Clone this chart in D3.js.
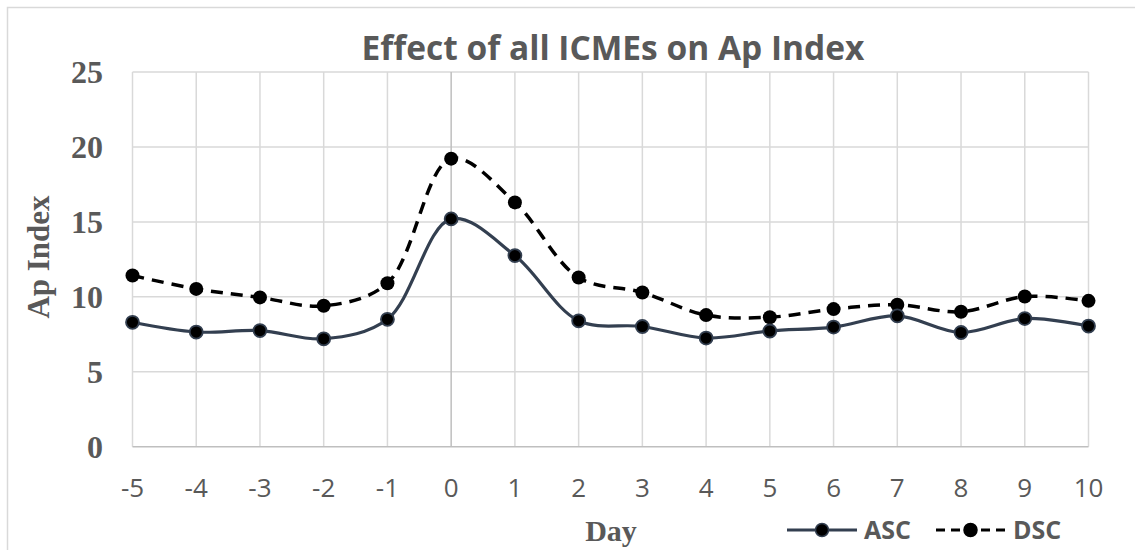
<!DOCTYPE html>
<html>
<head>
<meta charset="utf-8">
<script src="https://cdn.jsdelivr.net/npm/d3@7"></script>
<style>
  html, body { margin: 0; padding: 0; background: #ffffff; }
  svg { display: block; }
</style>
</head>
<body>
<svg id="chart" width="1135" height="550"></svg>
<script>
// Days relative to ICME arrival
const days = [-5, -4, -3, -2, -1, 0, 1, 2, 3, 4, 5, 6, 7, 8, 9, 10];
// Mean Ap index, ascending phase
const ascValues = [8.3, 7.65, 7.75, 7.2, 8.5, 15.2, 12.75, 8.4, 8.02, 7.25, 7.72, 7.98, 8.73, 7.62, 8.55, 8.05];
// Mean Ap index, descending phase
const dscValues = [11.42, 10.53, 9.96, 9.4, 10.91, 19.22, 16.3, 11.29, 10.29, 8.78, 8.64, 9.18, 9.47, 9.0, 10.02, 9.73];
const yTicks = [0, 5, 10, 15, 20, 25];
const seriesNames = ["ASC", "DSC"];

const svg = d3.select("#chart");
const textGrey = "#595959";
const gridGrey = "#d9d9d9";
const ascColor = "#333f50";

// outer chart frame
svg.append("rect")
  .attr("x", 7.5).attr("y", 7.5)
  .attr("width", 1140).attr("height", 560)
  .attr("fill", "none").attr("stroke", gridGrey).attr("stroke-width", 1.5);

const x = d3.scaleLinear().domain([-5, 10]).range([132.5, 1088.5]);
const y = d3.scaleLinear().domain([0, 25]).range([446.7, 72]);

// horizontal gridlines
svg.append("g")
  .selectAll("line").data(yTicks.filter(d => d > 0)).join("line")
  .attr("x1", x(-5)).attr("x2", x(10))
  .attr("y1", d => y(d)).attr("y2", d => y(d))
  .attr("stroke", gridGrey).attr("stroke-width", 1.5);

// vertical gridlines
svg.append("g")
  .selectAll("line").data(days.filter(d => d !== 0)).join("line")
  .attr("x1", d => x(d)).attr("x2", d => x(d))
  .attr("y1", y(25)).attr("y2", y(0))
  .attr("stroke", gridGrey).attr("stroke-width", 1.5);

// value axis crossing at day 0 and the category axis
svg.append("line")
  .attr("x1", x(0)).attr("x2", x(0))
  .attr("y1", y(25)).attr("y2", y(0))
  .attr("stroke", "#bfbfbf").attr("stroke-width", 1.5);
svg.append("line")
  .attr("x1", x(-5)).attr("x2", x(10))
  .attr("y1", y(0)).attr("y2", y(0))
  .attr("stroke", "#bfbfbf").attr("stroke-width", 1.5);

// y tick labels
svg.append("g")
  .selectAll("text").data(yTicks).join("text")
  .attr("x", 103).attr("y", d => y(d))
  .attr("dy", "0.35em")
  .attr("text-anchor", "end")
  .attr("font-family", "'Liberation Serif', 'Times New Roman', serif")
  .attr("font-weight", "bold").attr("font-size", 32)
  .attr("fill", textGrey)
  .text(d => d);

// x tick labels
svg.append("g")
  .selectAll("text").data(days).join("text")
  .attr("x", d => x(d)).attr("y", 497)
  .attr("text-anchor", "middle")
  .attr("font-family", "'Open Sans', sans-serif")
  .attr("font-size", 26)
  .attr("fill", textGrey)
  .text(d => d);

// axis titles
svg.append("text")
  .attr("transform", "translate(49,257) rotate(-90)")
  .attr("text-anchor", "middle")
  .attr("font-family", "'Liberation Serif', 'Times New Roman', serif")
  .attr("font-weight", "bold").attr("font-size", 31)
  .attr("fill", textGrey)
  .text("Ap Index");

svg.append("text")
  .attr("x", 611).attr("y", 541)
  .attr("text-anchor", "middle")
  .attr("font-family", "'Liberation Serif', 'Times New Roman', serif")
  .attr("font-weight", "bold").attr("font-size", 30)
  .attr("fill", textGrey)
  .text("Day");

// chart title
svg.append("text")
  .attr("x", 613).attr("y", 60)
  .attr("text-anchor", "middle")
  .attr("font-family", "'Open Sans', sans-serif")
  .attr("font-weight", "bold").attr("font-size", 33.5)
  .attr("fill", textGrey)
  .text("Effect of all ICMEs on Ap Index");

// series
const line = d3.line()
  .x((d, i) => x(days[i]))
  .y(d => y(d))
  .curve(d3.curveCatmullRom.alpha(0.5));

svg.append("path")
  .datum(dscValues)
  .attr("d", line)
  .attr("fill", "none").attr("stroke", "#000000")
  .attr("stroke-width", 3.5).attr("stroke-dasharray", "12,8");

svg.append("path")
  .datum(ascValues)
  .attr("d", line)
  .attr("fill", "none").attr("stroke", ascColor)
  .attr("stroke-width", 3.2);

svg.append("g")
  .selectAll("circle").data(dscValues).join("circle")
  .attr("cx", (d, i) => x(days[i])).attr("cy", d => y(d))
  .attr("r", 7).attr("fill", "#000000");

svg.append("g")
  .selectAll("circle").data(ascValues).join("circle")
  .attr("cx", (d, i) => x(days[i])).attr("cy", d => y(d))
  .attr("r", 6.5).attr("fill", "#000000")
  .attr("stroke", ascColor).attr("stroke-width", 1.8);

// legend
const legend = svg.append("g");
const legendItems = [
  { name: seriesNames[0], x0: 787, x1: 857, color: ascColor, dash: null, tx: 864 },
  { name: seriesNames[1], x0: 936, x1: 1005, color: "#000000", dash: "9,6", tx: 1013 }
];
legendItems.forEach(it => {
  legend.append("line")
    .attr("x1", it.x0).attr("x2", it.x1)
    .attr("y1", 530).attr("y2", 530)
    .attr("stroke", it.color).attr("stroke-width", 3.2)
    .attr("stroke-dasharray", it.dash);
  legend.append("circle")
    .attr("cx", (it.x0 + it.x1) / 2).attr("cy", 530)
    .attr("r", 6.5).attr("fill", "#000000")
    .attr("stroke", it.color).attr("stroke-width", 1.5);
  legend.append("text")
    .attr("x", it.tx).attr("y", 530).attr("dy", "0.35em")
    .attr("font-family", "'Open Sans', sans-serif")
    .attr("font-weight", "bold").attr("font-size", 25)
    .attr("fill", textGrey)
    .text(it.name);
});
</script>
</body>
</html>
